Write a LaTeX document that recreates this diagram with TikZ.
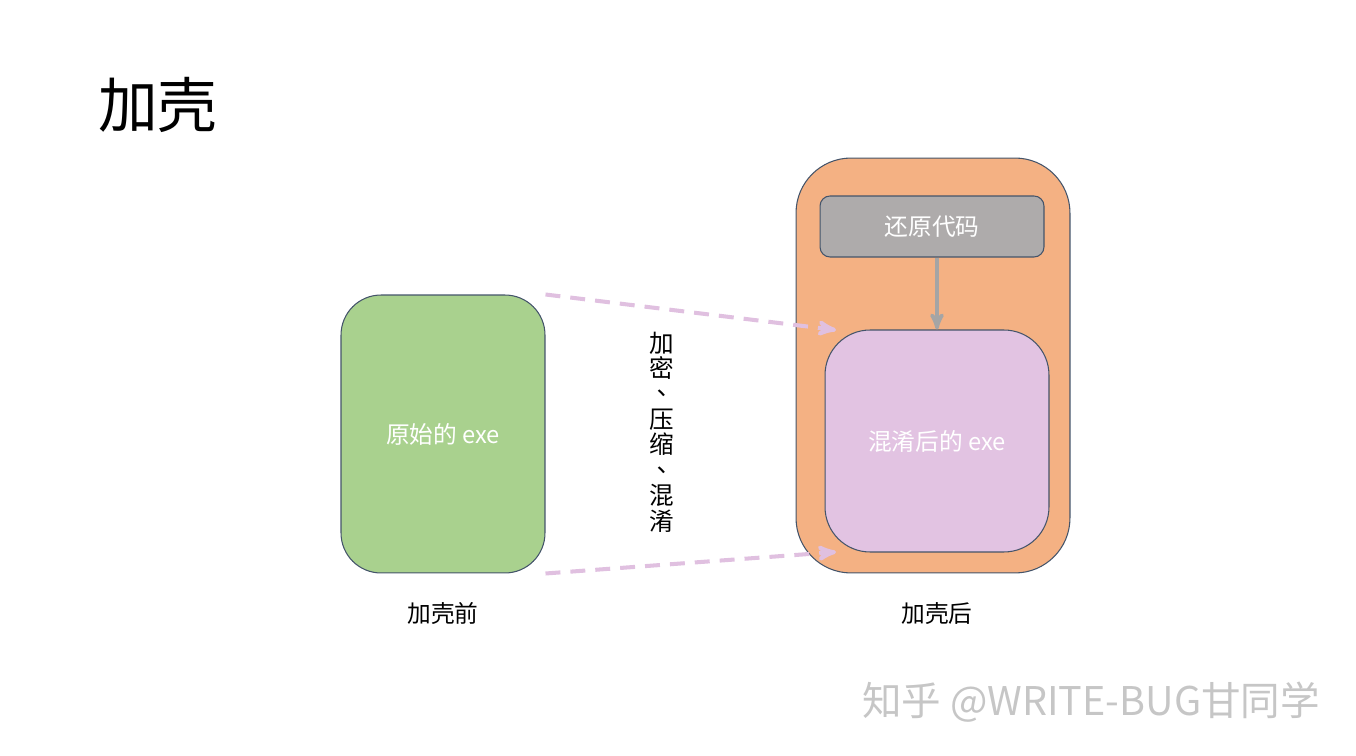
\documentclass[tikz,border=0pt]{standalone}
\usepackage{fontspec}
\setmainfont{Noto Sans CJK SC}
\newfontfamily\tcpunct{Noto Sans CJK TC}
\usetikzlibrary{arrows,positioning}
\definecolor{boxgreen}{HTML}{A9D18E}
\definecolor{shellorange}{HTML}{F4B183}
\definecolor{codegray}{HTML}{AEABAB}
\definecolor{exepink}{HTML}{E2C3E2}
\definecolor{edgeblue}{HTML}{44546A}
\definecolor{dashpink}{HTML}{E0C0E0}
\definecolor{arrowgray}{HTML}{A5A5A5}
\definecolor{markgray}{HTML}{C6C6C6}

\begin{document}
\begin{tikzpicture}[x=0.02cm,y=-0.02cm,>=stealth',
  main node/.style={draw=edgeblue,line width=0.6pt,text=white,inner sep=0pt,
    font=\fontsize{13.5}{16}\selectfont},
  side label/.style={font=\fontsize{13.5}{16}\selectfont},
  pack edge/.style={->,dashpink,line width=2.3pt,dash pattern=on 8.5pt off 5.7pt}]
  \useasboundingbox (0,0) rectangle (1356,756);

  \node[anchor=west,font=\fontsize{34}{40}\selectfont] (title) at (92,105) {加壳};

  \node[main node,fill=boxgreen,minimum width=4.08cm,minimum height=5.56cm,
    rounded corners=0.8cm] (orig) at (443,434) {原始的 exe};
  \node[main node,fill=shellorange,minimum width=5.48cm,minimum height=8.3cm,
    rounded corners=1.1cm] (shell) at (933,365.5) {};
  \node[main node,fill=codegray,minimum width=4.48cm,minimum height=1.22cm,
    rounded corners=0.2cm] (restore) at (932,226.5) {还原代码};
  \node[main node,fill=exepink,minimum width=4.48cm,minimum height=4.44cm,
    rounded corners=0.9cm] (packed) at (937,441) {混淆后的 exe};

  \node[side label,below=0.45cm of orig] (before) {加壳前};
  \node[side label,below=0.45cm of shell,xshift=0.08cm] (after) {加壳后};

  \node[align=center,font=\fontsize{14}{14.5}\selectfont] (steps) at (662,432)
    {加\\密\\{\tcpunct 、}\\压\\缩\\{\tcpunct 、}\\混\\淆};

  \coordinate (in top) at (836,330);
  \coordinate (in bottom) at (836,552);
  \draw[pack edge] (orig.north east) -- (in top);
  \draw[pack edge] (orig.south east) -- (in bottom);
  \draw[->,arrowgray,line width=2pt] (packed.north |- restore.south) -- (packed.north);

  \node[text=markgray,font=\fontsize{22.5}{26}\selectfont] (mark) at (1091,702)
    {知乎 @WRITE-BUG甘同学};
\end{tikzpicture}
\end{document}
